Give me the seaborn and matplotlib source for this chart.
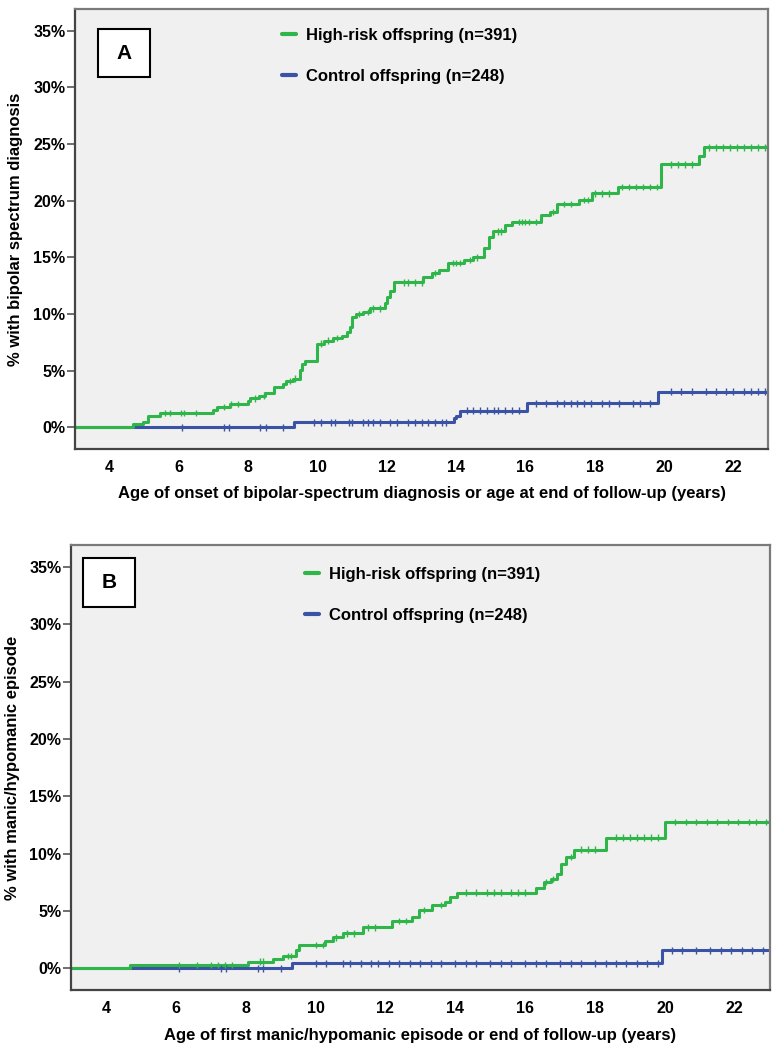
import numpy as np
import pandas as pd
import matplotlib
matplotlib.use('Agg')
import matplotlib.pyplot as plt
from matplotlib.lines import Line2D
from matplotlib.patches import Rectangle
import seaborn as sns

# Cumulative % with outcome (age in years)
# Panel A: bipolar-spectrum diagnosis
a_high_t = [3.0, 4.68, 4.95, 5.1, 5.45, 6.98, 7.1, 7.46, 7.98, 8.05, 8.3, 8.47, 8.75,
            9.0, 9.1, 9.3, 9.48, 9.55, 9.65, 9.98, 10.2, 10.45, 10.7, 10.85, 10.95,
            11.0, 11.1, 11.3, 11.5, 11.95, 12.0, 12.1, 12.2, 13.03, 13.3, 13.5, 13.75,
            14.22, 14.5, 14.8, 14.95, 15.05, 15.4, 15.6, 16.45, 16.7, 16.9, 17.55,
            17.93, 18.66, 19.91, 21.0, 21.15, 23.0]
a_high_v = [0.0, 0.26, 0.51, 1.02, 1.28, 1.53, 1.79, 2.05, 2.3, 2.56, 2.81, 3.07, 3.58,
            3.83, 4.1, 4.3, 5.1, 5.6, 5.87, 7.4, 7.65, 7.9, 8.1, 8.4, 8.9,
            9.7, 10.0, 10.2, 10.5, 11.0, 11.5, 12.0, 12.8, 13.3, 13.6, 13.9, 14.5,
            14.75, 15.0, 15.8, 16.8, 17.3, 17.85, 18.1, 18.7, 19.0, 19.7, 20.06,
            20.65, 21.2, 23.2, 23.9, 24.7, 24.7]
a_ctrl_t = [3.0, 9.31, 13.94, 14.0, 14.1, 16.05, 19.82, 23.0]
a_ctrl_v = [0.0, 0.44, 0.83, 1.04, 1.48, 2.12, 3.16, 3.16]

# Panel B: first manic/hypomanic episode
b_high_t = [3.0, 4.69, 8.07, 8.78, 9.07, 9.45, 9.54, 10.26, 10.5, 10.78, 11.35, 12.2,
            12.75, 12.95, 13.33, 13.71, 13.86, 14.05, 16.3, 16.54, 16.73, 16.92,
            17.02, 17.16, 17.4, 18.31, 20.0, 23.0]
b_high_v = [0.0, 0.29, 0.58, 0.81, 1.07, 1.6, 2.03, 2.4, 2.7, 3.04, 3.56, 4.14,
            4.48, 5.07, 5.5, 5.8, 6.2, 6.6, 7.0, 7.5, 7.8, 8.25,
            9.1, 9.7, 10.34, 11.4, 12.74, 12.74]
b_ctrl_t = [3.0, 9.33, 19.91, 23.0]
b_ctrl_v = [0.0, 0.43, 1.55, 1.55]

# censoring ticks (ages)
a_high_cens = [5.6, 5.75, 6.05, 6.15, 6.5, 7.3, 7.5, 7.7, 8.2, 8.45, 9.2, 9.35, 10.1,
               10.3, 10.55, 11.2, 11.45, 11.6, 11.8, 12.5, 12.6, 12.8, 13.0, 13.4,
               13.9, 14.0, 14.1, 14.4, 14.6, 15.2, 15.3, 15.8, 15.9, 16.0, 16.1, 16.3,
               16.8, 17.1, 17.3, 17.7, 17.8, 18.0, 18.2, 18.4, 18.8, 19.0, 19.2, 19.4,
               19.6, 19.8, 20.2, 20.4, 20.6, 20.8, 21.3, 21.5, 21.7, 21.9, 22.1, 22.3,
               22.5, 22.7, 22.9]
a_ctrl_cens = [6.1, 7.3, 7.45, 8.35, 8.5, 9.0, 9.9, 10.1, 10.4, 10.5, 10.9, 11.0, 11.3,
               11.45, 11.6, 11.8, 12.1, 12.3, 12.6, 12.8, 13.0, 13.2, 13.4, 13.6, 13.7,
               14.3, 14.5, 14.7, 14.9, 15.1, 15.2, 15.4, 15.6, 15.8, 16.3, 16.6, 16.9,
               17.1, 17.3, 17.5, 17.7, 17.9, 18.2, 18.4, 18.7, 19.1, 19.3, 19.6, 20.2,
               20.5, 20.8, 21.2, 21.5, 21.8, 22.0, 22.3, 22.5, 22.7, 22.9]
b_high_cens = [6.1, 6.6, 7.0, 7.2, 7.4, 7.6, 8.4, 8.5, 9.2, 9.3, 10.0, 10.2, 10.6,
               10.9, 11.1, 11.5, 11.7, 12.4, 12.6, 13.1, 13.6, 14.3, 14.6, 14.9, 15.1,
               15.3, 15.6, 15.8, 16.0, 16.6, 16.8, 17.3, 17.6, 17.8, 18.0, 18.6, 18.8,
               19.0, 19.2, 19.4, 19.6, 19.8, 20.3, 20.6, 20.9, 21.2, 21.5, 21.8, 22.1,
               22.4, 22.6, 22.9]
b_ctrl_cens = [6.1, 7.3, 7.45, 8.35, 8.5, 9.0, 10.0, 10.3, 10.8, 11.0, 11.3, 11.6,
               11.8, 12.1, 12.4, 12.7, 13.0, 13.3, 13.6, 14.0, 14.3, 14.6, 15.0, 15.3,
               15.6, 16.0, 16.3, 16.6, 17.0, 17.3, 17.6, 18.0, 18.3, 18.6, 18.9, 19.2,
               19.5, 19.8, 20.2, 20.5, 20.9, 21.3, 21.6, 21.9, 22.2, 22.5, 22.8]

HIGH = 'High-risk offspring (n=391)'
CTRL = 'Control offspring (n=248)'
GREEN = '#2fb54a'
BLUE = '#3a53a4'
pal = {HIGH: GREEN, CTRL: BLUE}


def step_df(t, v, group):
    return pd.DataFrame({'age': t, 'pct': v, 'group': group})


def cens_df(times, t, v, group):
    idx = np.searchsorted(t, times, side='right') - 1
    return pd.DataFrame({'age': times, 'pct': np.asarray(v)[idx], 'group': group})


sns.set_style('ticks')
plt.rcParams['font.family'] = ['Liberation Sans', 'DejaVu Sans']
plt.rcParams['font.weight'] = 'bold'
plt.rcParams['text.color'] = 'black'
plt.rcParams['axes.labelcolor'] = 'black'

fig = plt.figure(figsize=(7.79, 10.5), dpi=100)
ax_a = fig.add_axes([0.0963, 0.5724, 0.8896, 0.419])
ax_b = fig.add_axes([0.0911, 0.0571, 0.897, 0.4238])

panels = [
    (ax_a, a_high_t, a_high_v, a_ctrl_t, a_ctrl_v, a_high_cens, a_ctrl_cens, 'A',
     '% with bipolar spectrum diagnosis',
     'Age of onset of bipolar-spectrum diagnosis or age at end of follow-up (years)',
     (0.299, 0.957), (0.0332, 0.8455), -0.075),
    (ax_b, b_high_t, b_high_v, b_ctrl_t, b_ctrl_v, b_high_cens, b_ctrl_cens, 'B',
     '% with manic/hypomanic episode',
     'Age of first manic/hypomanic episode or end of follow-up (years)',
     (0.335, 0.9505), (0.0172, 0.861), -0.073),
]

for (ax, ht, hv, ct, cv, hc, cc, tag, ylab, xlab, leg_xy, box_xy, ylab_x) in panels:
    ax.set_facecolor('#f0f0f0')
    curves = pd.concat([step_df(ct, cv, CTRL), step_df(ht, hv, HIGH)])
    sns.lineplot(data=curves, x='age', y='pct', hue='group', palette=pal,
                 drawstyle='steps-post', estimator=None, sort=False, lw=2.2,
                 legend=False, ax=ax)
    marks = pd.concat([cens_df(cc, ct, cv, CTRL), cens_df(hc, ht, hv, HIGH)])
    sns.scatterplot(data=marks, x='age', y='pct', hue='group', palette=pal,
                    marker='|', s=22, linewidth=1.0, legend=False, ax=ax, zorder=3)

    ax.set_xlim(3, 23)
    ax.set_ylim(-1.9, 36.9)
    ax.set_xticks(range(4, 23, 2))
    ax.set_yticks(range(0, 36, 5))
    ax.set_yticklabels([f'{v}%' for v in range(0, 36, 5)])
    ax.tick_params(axis='x', length=0, pad=8, labelsize=11.5, labelcolor='black')
    ax.tick_params(axis='y', length=6, width=1.2, color='#555555', pad=1,
                   labelsize=11.5, labelcolor='black')
    for s in ['left', 'bottom']:
        ax.spines[s].set_color('#444444')
        ax.spines[s].set_linewidth(1.6)
    for s in ['top', 'right']:
        ax.spines[s].set_color('#7a7a7a')
        ax.spines[s].set_linewidth(1.6)

    ax.set_ylabel(ylab, fontsize=12, fontweight='bold')
    ax.set_xlabel(xlab, fontsize=12, fontweight='bold')
    ax.yaxis.set_label_coords(ylab_x, 0.5)
    ax.xaxis.set_label_coords(0.5, -0.085)

    handles = [Line2D([], [], color=GREEN, lw=3), Line2D([], [], color=BLUE, lw=3)]
    ax.legend(handles, [HIGH, CTRL], loc='upper left', bbox_to_anchor=leg_xy,
              frameon=False, handlelength=0.85, handletextpad=0.6, labelspacing=1.56,
              borderpad=0, borderaxespad=0, prop={'weight': 'bold', 'size': 12})

    ax.add_patch(Rectangle(box_xy, 0.075, 0.109, transform=ax.transAxes,
                           facecolor='white', edgecolor='black', lw=1.5, zorder=4))
    ax.text(box_xy[0] + 0.0375, box_xy[1] + 0.0545, tag, transform=ax.transAxes,
            ha='center', va='center', fontsize=15, fontweight='bold', zorder=5)

fig.savefig('out.png', dpi=100)
